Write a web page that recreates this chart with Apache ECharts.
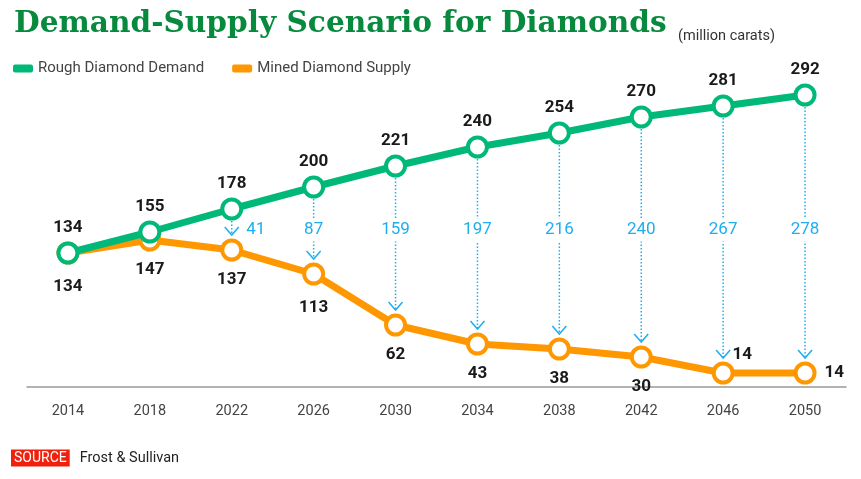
<!DOCTYPE html>
<html>
<head>
<meta charset="utf-8">
<script src="https://cdn.jsdelivr.net/npm/echarts@6/dist/echarts.min.js"></script>
<style>html,body{margin:0;padding:0;background:#fff}#c{width:861px;height:479px}</style>
</head>
<body>
<div id="c"></div>
<script>
const years = ['2014','2018','2022','2026','2030','2034','2038','2042','2046','2050'];
const demand = [134,155,178,200,221,240,254,270,281,292];
const supply = [134,147,137,113,62,43,38,30,14,14];
const gapLabels = [null,null,41,87,159,197,216,240,267,278];

const GREEN = '#00b978', ORANGE = '#ff9800', BLUE = '#1eaef0';
const NUMFONT = 'Roboto';

const chart = echarts.init(document.getElementById('c'));

const gapData = [];
years.forEach((y, i) => { if (gapLabels[i] != null) gapData.push([i, demand[i], supply[i], gapLabels[i]]); });

const supplyData = supply.map((v, i) => {
  const item = { value: v };
  if (i === 0 || i === 3) item.label = { distance: 14 };
  if (i === 8) item.label = { position: 'top', offset: [19, 2], distance: 0 };
  if (i === 9) item.label = { position: 'right', distance: 8 };
  return item;
});

chart.setOption({
  animation: false,
  title: [
    { text: 'Demand-Supply Scenario for Diamonds', left: 9, top: 4,
      textStyle: { fontFamily: 'DejaVu Serif', fontWeight: 'bold', fontSize: 29.6, color: '#078a3e' } },
    { text: '(million carats)', left: 673, top: 24,
      textStyle: { fontFamily: 'Roboto', fontWeight: 'normal', fontSize: 14.5, color: '#333' } },
    { text: '{a|SOURCE}  {b|Frost & Sullivan}', left: 6, top: 444,
      textStyle: { rich: {
        a: { backgroundColor: '#f0200c', color: '#fff', fontFamily: 'Roboto', fontWeight: 'normal', fontSize: 14, padding: [2, 3, 1, 3] },
        b: { color: '#222', fontFamily: 'Roboto', fontWeight: 'normal', fontSize: 14.5 } } } }
  ],
  legend: {
    left: 8, top: 56, itemWidth: 20, itemHeight: 8, itemGap: 28,
    icon: 'roundRect',
    textStyle: { fontFamily: 'Roboto', fontSize: 15, color: '#444' },
    data: [
      { name: 'Rough Diamond Demand', itemStyle: { color: GREEN, borderWidth: 0 } },
      { name: 'Mined Diamond Supply', itemStyle: { color: ORANGE, borderWidth: 0 } }
    ]
  },
  grid: { left: 27, right: 15, top: 87, bottom: 88 },
  xAxis: {
    type: 'category', data: years, boundaryGap: true,
    axisTick: { show: false },
    axisLine: { lineStyle: { color: '#999', width: 1.5 } },
    axisLabel: { color: '#444', fontFamily: 'Roboto', fontSize: 14.5, margin: 13 }
  },
  yAxis: { type: 'value', min: -4, max: 300, show: false, splitLine: { show: false } },
  series: [
    {
      name: 'Gap', type: 'custom', z: 1,
      data: gapData,
      renderItem: function (params, api) {
        const i = api.value(0);
        const p1 = api.coord([i, api.value(1)]);
        const p2 = api.coord([i, api.value(2)]);
        const x = p1[0];
        const y0 = p1[1] + 12;
        const tip = p2[1] - 15;
        const ly = api.coord([i, 157])[1];
        const shortLine = (tip - y0) < 40;
        return {
          type: 'group',
          children: [
            { type: 'line', shape: { x1: x, y1: y0, x2: x, y2: tip },
              style: { stroke: BLUE, lineWidth: 1.5, lineDash: [1.5, 2] } },
            { type: 'polyline', shape: { points: [[x - 7, tip - 8], [x, tip], [x + 7, tip - 8]] },
              style: { stroke: BLUE, lineWidth: 1.5, fill: null } },
            { type: 'text', z2: 10,
              style: { text: String(api.value(3)), x: shortLine ? x + 24 : x, y: ly,
                textAlign: 'center', textVerticalAlign: 'middle',
                fill: BLUE, font: '17px ' + NUMFONT,
                backgroundColor: shortLine ? null : '#fff', padding: [3, 1] } }
          ]
        };
      }
    },
    {
      name: 'Mined Diamond Supply', type: 'line', z: 2,
      data: supplyData,
      symbol: 'circle', symbolSize: 19,
      lineStyle: { color: ORANGE, width: 7 },
      itemStyle: { color: '#fff', borderColor: ORANGE, borderWidth: 4 },
      label: { show: true, position: 'bottom', distance: 10,
        color: '#1a1a1a', fontFamily: NUMFONT, fontWeight: 'bold', fontSize: 17 }
    },
    {
      name: 'Rough Diamond Demand', type: 'line', z: 3,
      data: demand,
      symbol: 'circle', symbolSize: 19,
      lineStyle: { color: GREEN, width: 7 },
      itemStyle: { color: '#fff', borderColor: GREEN, borderWidth: 4 },
      label: { show: true, position: 'top', distance: 5,
        color: '#1a1a1a', fontFamily: NUMFONT, fontWeight: 'bold', fontSize: 17 }
    }
  ]
});
</script>
</body>
</html>
